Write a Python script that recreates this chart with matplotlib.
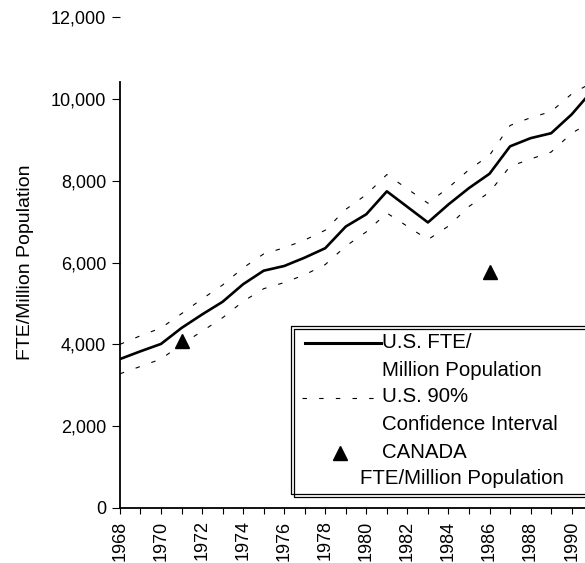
import numpy as np
import matplotlib.pyplot as plt
from matplotlib.lines import Line2D
from matplotlib.ticker import FuncFormatter, MultipleLocator

plt.rcParams["font.family"] = ["Liberation Sans", "DejaVu Sans"]

# U.S. FTE per million population (1982 has no point; line runs straight 1981-1983)
years = [1968, 1969, 1970, 1971, 1972, 1973, 1974, 1975, 1976, 1977, 1978, 1979,
         1980, 1981, 1983, 1984, 1985, 1986, 1987, 1988, 1989, 1990, 1991]
us_fte = [3640, 3830, 4010, 4400, 4730, 5040, 5470, 5800, 5915, 6120, 6350, 6880,
          7180, 7740, 6980, 7420, 7820, 8170, 8840, 9040, 9160, 9620, 10200]
ci_upper = [4000, 4210, 4400, 4750, 5110, 5450, 5870, 6210, 6360, 6550, 6790, 7300,
            7660, 8150, 7450, 7830, 8270, 8620, 9350, 9540, 9690, 10120, 10400]
ci_lower = [3280, 3460, 3640, 4000, 4320, 4650, 5050, 5360, 5510, 5700, 5950, 6400,
            6750, 7210, 6560, 6890, 7370, 7720, 8350, 8530, 8700, 9160, 9450]

canada_years = [1971, 1986]
canada_fte = [4090, 5780]

W, H = 585, 563
fig = plt.figure(figsize=(W / 100, H / 100), dpi=100)
ax = fig.add_axes([0.205, 0.0977, 0.795, 0.872])

ax.plot(years, us_fte, color="black", lw=1.9)
ax.plot(years, ci_upper, color="black", lw=0.8, dashes=(4, 11))
ax.plot(years, ci_lower, color="black", lw=0.8, dashes=(4, 11))
ax.plot(canada_years, canada_fte, ls="none", marker="^", ms=10, color="black")

ax.set_xlim(1968, 1990.65)
ax.set_ylim(0, 12000)
ax.xaxis.set_major_locator(MultipleLocator(2))
ax.xaxis.set_minor_locator(MultipleLocator(1))
ax.yaxis.set_major_locator(MultipleLocator(2000))
ax.yaxis.set_major_formatter(FuncFormatter(lambda v, p: f"{int(v):,}"))
ax.tick_params(axis="x", which="both", direction="out", length=4, width=0.8,
               labelsize=13, labelrotation=90, pad=5)
ax.tick_params(axis="y", direction="out", length=6, width=0.8, labelsize=13, pad=4)

ax.spines["top"].set_visible(False)
ax.spines["right"].set_visible(False)
ax.spines["left"].set_bounds(0, 10420)
ax.spines["left"].set_linewidth(1.3)
ax.spines["bottom"].set_linewidth(1.3)

ax.set_ylabel("FTE/Million Population", fontsize=14, labelpad=12)


# hand-made legend, placed in figure pixels (top-left origin);
# the box runs off the right edge of the figure like in the scan
def fx(px):
    return px / W


def fy(py):
    return 1 - py / H


for d in (0, 2.5):
    bx = [W, 291 + d, 291 + d, W]
    by = [326 + d, 326 + d, 494 + d, 494 + d]
    fig.add_artist(Line2D([fx(v) for v in bx], [fy(v) for v in by],
                          transform=fig.transFigure, color="black", lw=0.9))

leg_size = 14.7
fig.add_artist(Line2D([fx(305), fx(381)], [fy(343), fy(343)],
                      transform=fig.transFigure, color="black", lw=2.2))
fig.add_artist(Line2D([fx(302), fx(374)], [fy(398), fy(398)],
                      transform=fig.transFigure, color="black", lw=0.8,
                      dashes=(4, 11)))
fig.add_artist(Line2D([fx(340)], [fy(453)], transform=fig.transFigure,
                      ls="none", marker="^", ms=10, color="black"))

legend_lines = [("U.S. FTE/", 382, 343), ("Million Population", 382, 370),
                ("U.S. 90%", 382, 397), ("Confidence Interval", 382, 424),
                ("CANADA", 382, 452), ("FTE/Million Population", 360, 479)]
for txt, px, py in legend_lines:
    fig.text(fx(px), fy(py), txt, fontsize=leg_size, ha="left", va="center")

fig.savefig("out.png", dpi=100)
